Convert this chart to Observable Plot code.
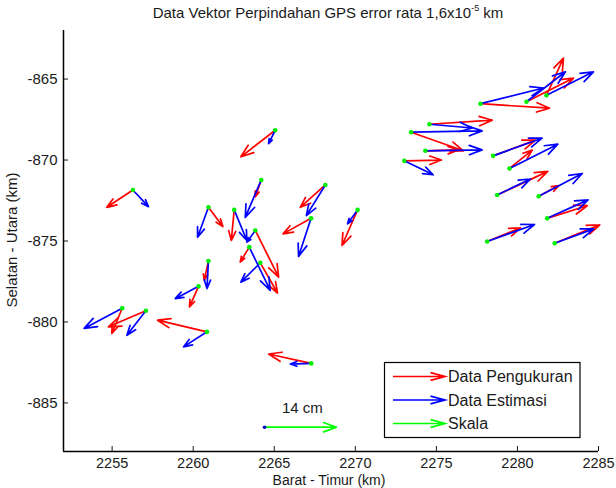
<!DOCTYPE html>
<html><head><meta charset="utf-8">
<script src="https://cdn.jsdelivr.net/npm/d3@7"></script>
<script src="https://cdn.jsdelivr.net/npm/@observablehq/plot@0.6"></script>
<style>body{margin:0;background:#fff;} #chart{width:616px;height:488px;}</style>
</head><body><div id="chart"></div>
<script>
// Station positions (km)
const stationX = [2277.72,2280.56,2281.79,2274.57,2273.44,2274.32,2273.02,2278.50,2279.51,2278.75,2281.31,2281.83,2278.13,2282.30,2256.28,2260.94,2260.94,2260.33,2255.62,2257.08,2260.85,2265.06,2264.20,2262.53,2263.83,2263.46,2264.14,2268.15,2267.27,2270.14,2267.28];
const stationY = [-866.52,-866.40,-866.00,-867.79,-868.28,-869.43,-870.05,-869.74,-870.52,-872.16,-872.24,-873.60,-875.03,-875.14,-871.85,-872.92,-876.24,-877.80,-879.15,-879.31,-880.61,-868.16,-871.23,-873.08,-874.35,-875.38,-876.35,-871.54,-873.60,-873.08,-882.56];
// Tip of measured vector (Data Pengukuran)
const measuredX = [2281.98,2283.46,2282.84,2278.44,2276.67,2276.36,2275.31,2281.11,2280.91,2281.87,2282.55,2284.30,2280.19,2285.08,2254.67,2261.83,2260.68,2259.77,2254.98,2254.77,2257.80,2262.94,2263.83,2262.35,2265.27,2262.90,2265.20,2266.60,2265.54,2269.18,2264.65];
const measuredY = [-866.80,-864.94,-863.71,-867.54,-869.43,-869.37,-870.00,-868.77,-869.39,-870.70,-871.58,-872.82,-874.19,-874.00,-872.92,-874.11,-877.43,-879.07,-880.71,-880.30,-879.89,-869.80,-872.26,-874.97,-877.23,-876.30,-878.21,-872.92,-874.56,-875.28,-881.98];
// Tip of estimated vector (Data Estimasi)
const estimatedX = [2281.60,2282.96,2284.69,2277.22,2277.82,2277.82,2274.80,2281.52,2282.49,2280.80,2284.00,2284.36,2281.05,2284.71,2257.24,2260.27,2260.85,2258.89,2253.27,2255.91,2259.40,2264.65,2263.21,2263.31,2263.31,2264.75,2262.94,2266.98,2266.50,2269.52,2265.99];
const estimatedY = [-865.55,-864.55,-864.55,-868.02,-868.20,-869.37,-870.91,-868.65,-869.02,-871.17,-870.83,-872.46,-873.98,-874.25,-872.88,-874.77,-877.94,-878.56,-880.40,-880.82,-881.54,-868.98,-873.54,-874.97,-875.07,-878.05,-877.54,-873.43,-875.95,-873.94,-882.60];
// Scale vector
const scaleStart = [2264.4, -886.5];
const scaleEnd = [2268.83, -886.5];
const scaleLabel = ["14 cm"];
const xTicks = [2255,2260,2265,2270,2275,2280,2285];
const yTicks = [-865,-870,-875,-880,-885];
const xDomain = [2252, 2285];
const yDomain = [-888, -862];
const legendLabels = ["Data Pengukuran","Data Estimasi","Skala"];
const legendColors = ["#ff0000","#0000ff","#00ff00"];

const data = stationX.map((x, i) => ({
  x0: x, y0: stationY[i],
  xm: measuredX[i], ym: measuredY[i],
  xe: estimatedX[i], ye: estimatedY[i]
}));
const scaleData = [{x1: scaleStart[0], y1: scaleStart[1], x2: scaleEnd[0], y2: scaleEnd[1], label: scaleLabel[0]}];

const FONT = "'Liberation Sans', Arial, Helvetica, sans-serif";
const arrowOpts = {strokeWidth: 1.7, headLength: 12, headAngle: 40};

const chart = Plot.plot({
  width: 616, height: 488,
  marginLeft: 63, marginRight: 18, marginTop: 30, marginBottom: 37,
  x: {domain: xDomain},
  y: {domain: yDomain},
  style: {fontFamily: FONT, fontSize: "15px", color: "#1a1a1a", background: "#fff"},
  marks: [
    Plot.axisX({ticks: xTicks, tickSize: -5, tickPadding: 11, tickFormat: d => String(d), label: null, strokeWidth: 1, fontSize: 14.5}),
    Plot.axisY({ticks: yTicks, tickSize: -5, tickPadding: 11, tickFormat: d => String(d), label: null, strokeWidth: 1}),
    Plot.ruleX([xDomain[0]], {y1: yDomain[0], y2: yDomain[1], stroke: "#000", strokeWidth: 1.5}),
    Plot.ruleY([yDomain[0]], {x1: xDomain[0], x2: xDomain[1], stroke: "#000", strokeWidth: 1.5}),
    Plot.arrow(data, {x1: "x0", y1: "y0", x2: "xm", y2: "ym", stroke: "#ff0000", ...arrowOpts}),
    Plot.arrow(data, {x1: "x0", y1: "y0", x2: "xe", y2: "ye", stroke: "#0000ff", ...arrowOpts}),
    Plot.dot(data, {x: "x0", y: "y0", r: 2.3, fill: "#00ee00", stroke: null}),
    Plot.arrow(scaleData, {x1: "x1", y1: "y1", x2: "x2", y2: "y2", stroke: "#00ff00", ...arrowOpts}),
    Plot.dot(scaleData, {x: "x1", y: "y1", r: 1.8, fill: "#0000cc", stroke: null}),
    Plot.text(scaleData, {x: d => (d.x1 + d.x2) / 2, y: "y1", text: "label", dy: -19, dx: 2, fontSize: 15, fill: "#1a1a1a"})
  ]
});
document.getElementById("chart").appendChild(chart);

const svg = d3.select(chart);
// Title
const title = svg.append("text").attr("x", 328).attr("y", 18).attr("text-anchor", "middle")
  .attr("font-family", FONT).attr("font-size", 15).attr("fill", "#1a1a1a");
title.append("tspan").text("Data Vektor Perpindahan GPS error rata 1,6x10");
title.append("tspan").attr("font-size", 9).attr("dy", -7).text("-5");
title.append("tspan").attr("dy", 7).text(" km");
// Axis labels
svg.append("text").attr("x", 329).attr("y", 485).attr("text-anchor", "middle")
  .attr("font-family", FONT).attr("font-size", 14).attr("fill", "#1a1a1a").text("Barat - Timur (km)");
svg.append("text").attr("transform", "translate(17,240) rotate(-90)").attr("text-anchor", "middle")
  .attr("font-family", FONT).attr("font-size", 15).attr("fill", "#1a1a1a").text("Selatan - Utara (km)");

// Legend
const lg = svg.append("g").attr("text-anchor", "start");
lg.append("rect").attr("x", 384.5).attr("y", 362.5).attr("width", 195.5).attr("height", 75)
  .attr("fill", "#fff").attr("stroke", "#000").attr("stroke-width", 1.2);
legendLabels.forEach((lab, i) => {
  const yy = 376.5 + i * 23.5;
  const x1 = 393, x2 = 445, hl = 15, ha = 15 * Math.PI / 180;
  lg.append("path").attr("fill", "none").attr("stroke", legendColors[i]).attr("stroke-width", 1.7)
    .attr("d", `M${x1},${yy}L${x2},${yy}M${x2 - hl * Math.cos(ha)},${yy - hl * Math.sin(ha)}L${x2},${yy}L${x2 - hl * Math.cos(ha)},${yy + hl * Math.sin(ha)}`);
  lg.append("text").attr("x", 448).attr("y", yy).attr("dy", "0.36em").attr("text-anchor", "start")
    .attr("font-family", FONT).attr("font-size", 16).attr("fill", "#1a1a1a").text(lab);
});
</script>
</body></html>
